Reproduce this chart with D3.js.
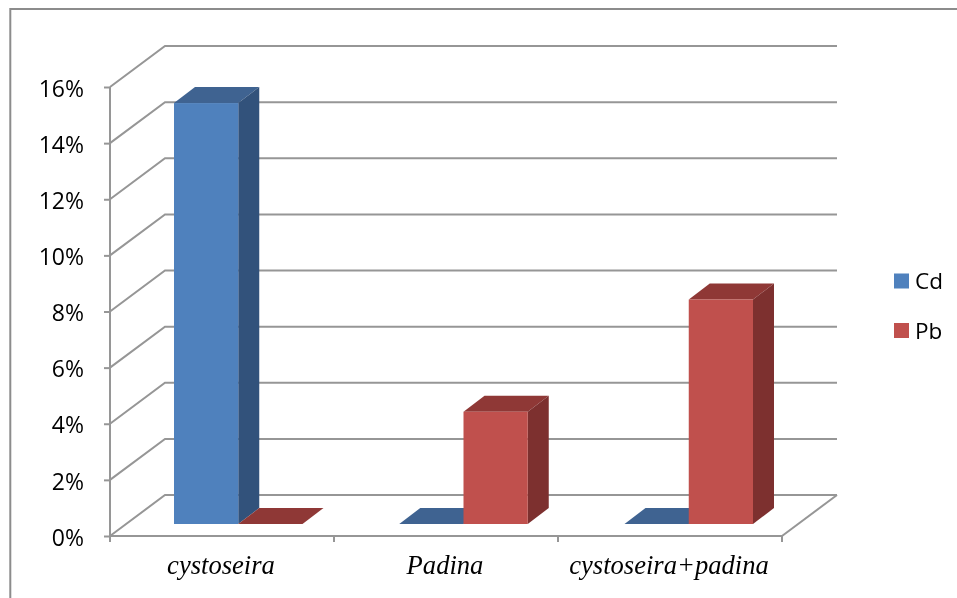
<!DOCTYPE html>
<html>
<head>
<meta charset="utf-8">
<script src="https://d3js.org/d3.v7.min.js"></script>
<style>
  html, body { margin: 0; padding: 0; background: #fff; }
  svg { display: block; filter: blur(0.4px); }
</style>
</head>
<body>
<svg id="chart" width="957" height="598"></svg>
<script>
const categories = ['cystoseira', 'Padina', 'cystoseira+padina'];
const seriesNames = ['Cd', 'Pb'];
const cdValues = [15, 0, 0];
const pbValues = [0, 4, 8];
const yTicks = [0, 2, 4, 6, 8, 10, 12, 14, 16];

const frontColor = { Cd: '#4f81bd', Pb: '#c0504d' };
const topColor = { Cd: '#3f6391', Pb: '#8f3836' };
const sideColor = { Cd: '#32527b', Pb: '#7d302f' };
const gridColor = '#969696';

const width = 957;
const height = 598;

// depth of the floor and of one bar, the picture is a fake 3d
const wallDx = 55, wallDy = -41;
const barDx = 21, barDy = -16;
const barLift = 12;

const svg = d3.select('#chart').attr('width', width).attr('height', height);

const y = d3.scaleLinear().domain([0, 16]).range([536, 87]);
const x = d3.scaleBand().domain(categories).range([110, 782]);
const barStart = d3.scalePoint().domain(categories).range([174, 624.5]);
const barX = d3.scaleBand().domain(seriesNames).range([0, 128.5]);

// outer frame
svg.append('path')
  .attr('d', `M10.3,${height}V9H${width}`)
  .attr('fill', 'none')
  .attr('stroke', '#8c8c8c')
  .attr('stroke-width', 2);

// walls
const walls = svg.append('g').attr('fill', 'none').attr('stroke', gridColor).attr('stroke-width', 2);
walls.selectAll('path.grid')
  .data(yTicks)
  .enter()
  .append('path')
  .attr('class', 'grid')
  .attr('d', (d) => {
    const y0 = y(d);
    return `M${x.range()[0]},${y0}l${wallDx},${wallDy}H${x.range()[1] + wallDx}`;
  });

walls.append('path')
  .attr('d', `M${x.range()[1]},${y(0)}l${wallDx},${wallDy}`);

// y axis
const yAxis = d3.axisLeft(y)
  .tickValues(yTicks)
  .tickFormat((d) => d + '%')
  .tickSize(6)
  .tickPadding(20);
const yG = svg.append('g').attr('transform', 'translate(110,0)').call(yAxis);
yG.select('.domain').attr('stroke', gridColor).attr('stroke-width', 2).attr('d', `M0,${y(16)}V${y(0)}`);
yG.selectAll('.tick line').attr('stroke', gridColor).attr('stroke-width', 2);
yG.selectAll('.tick text')
  .attr('fill', '#000')
  .attr('dy', '0.4em')
  .style('font-family', '"Open Sans", sans-serif')
  .style('font-size', '23px');

// x axis
const xAxis = d3.axisBottom(x).tickSize(0).tickPadding(19);
const xG = svg.append('g').attr('transform', `translate(-1,${y(0)})`).call(xAxis);
xG.select('.domain').attr('stroke', gridColor).attr('stroke-width', 2).attr('d', 'M111,0H783');
xG.selectAll('.tick text')
  .attr('fill', '#000')
  .style('font-family', '"Liberation Serif", serif')
  .style('font-style', 'italic')
  .style('font-size', '26.6px');
svg.append('g').selectAll('line')
  .data([0, 1, 2, 3])
  .enter()
  .append('line')
  .attr('x1', (d) => 110 + d * x.bandwidth())
  .attr('x2', (d) => 110 + d * x.bandwidth())
  .attr('y1', y(0))
  .attr('y2', y(0) + 6)
  .attr('stroke', gridColor)
  .attr('stroke-width', 2);

// bars
const bars = [];
categories.forEach((c, i) => {
  bars.push({ cat: c, name: 'Cd', value: cdValues[i] });
  bars.push({ cat: c, name: 'Pb', value: pbValues[i] });
});

const barG = svg.append('g').selectAll('g')
  .data(bars)
  .enter()
  .append('g');

const bw = barX.bandwidth();
const barLeft = (d) => barStart(d.cat) + barX(d.name);
const barBase = y(0) - barLift;
const barTop = (d) => y(d.value) - barLift;

// top face
barG.append('path')
  .attr('fill', (d) => topColor[d.name])
  .attr('d', (d) => `M${barLeft(d)},${barTop(d)}l${barDx},${barDy}h${bw}l${-barDx},${-barDy}z`);
// side face
barG.append('path')
  .attr('fill', (d) => sideColor[d.name])
  .attr('d', (d) => `M${barLeft(d) + bw},${barTop(d)}l${barDx},${barDy}V${barBase + barDy}L${barLeft(d) + bw},${barBase}z`);
// front face
barG.append('rect')
  .attr('fill', (d) => frontColor[d.name])
  .attr('x', (d) => barLeft(d))
  .attr('y', (d) => barTop(d))
  .attr('width', bw)
  .attr('height', (d) => barBase - barTop(d));

// legend
const legend = d3.scalePoint().domain(seriesNames).range([281, 330.5]);
const legendG = svg.append('g').selectAll('g')
  .data(seriesNames)
  .enter()
  .append('g')
  .attr('transform', (d) => `translate(894,${legend(d)})`);
legendG.append('rect')
  .attr('y', -7.5)
  .attr('width', 15)
  .attr('height', 15)
  .attr('fill', (d) => frontColor[d]);
legendG.append('text')
  .attr('x', 21)
  .attr('dy', '0.36em')
  .style('font-family', '"Open Sans", sans-serif')
  .style('font-size', '22.5px')
  .text((d) => d);
</script>
</body>
</html>
